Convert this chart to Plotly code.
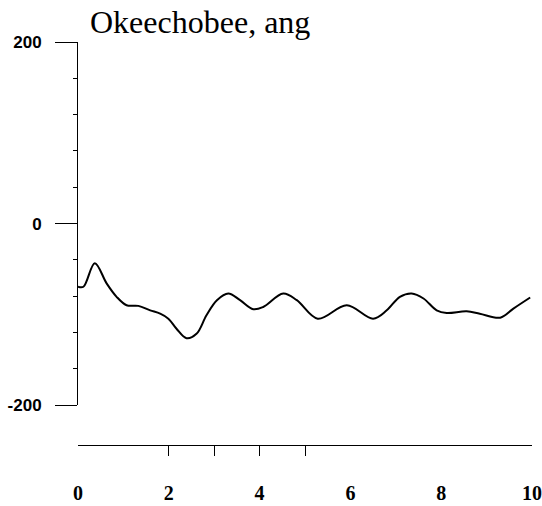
import plotly.graph_objects as go

# Data
x_vals = [0.0, 0.12, 0.37, 0.63, 0.85, 1.07, 1.33, 1.59, 1.81, 1.99, 2.17, 2.39,
          2.61, 2.83, 3.06, 3.31, 3.57, 3.86, 4.08, 4.52, 4.82, 5.28, 5.92, 6.50,
          6.80, 7.09, 7.35, 7.61, 7.90, 8.12, 8.56, 8.85, 9.30, 9.59, 9.96]
y_vals = [-69.6, -69.6, -43.7, -65.9, -80.7, -90.0, -90.7, -95.6, -99.3, -104.8,
          -115.9, -126.3, -121.5, -101.0, -84.4, -77.0, -84.4, -94.4, -91.9, -77.0,
          -84.4, -104.8, -90.0, -104.8, -95.6, -80.7, -77.0, -82.6, -95.6, -98.5,
          -96.7, -99.3, -103.7, -93.7, -81.5]

x_tick_vals = [0, 2, 4, 6, 8, 10]
x_tick_text = ["0", "2", "4", "6", "8", "10"]
x_small_ticks = [2, 3, 4, 5]
y_tick_vals = [-200, 0, 200]
y_tick_text = ["-200", "0", "200"]
title_text = "Okeechobee, ang"

fig = go.Figure()
fig.add_trace(go.Scatter(
    x=x_vals, y=y_vals, mode="lines",
    line=dict(color="black", width=2, shape="spline", smoothing=1.0),
    showlegend=False, hoverinfo="skip",
))

fig.update_layout(
    width=542, height=506,
    margin=dict(l=78, r=10, t=42, b=61, autoexpand=False),
    paper_bgcolor="white", plot_bgcolor="white",
    xaxis=dict(
        range=[0, 10], anchor="free", position=0, automargin=False,
        tickvals=x_tick_vals, ticktext=x_tick_text,
        ticks="outside", ticklen=30, tickcolor="rgba(0,0,0,0)",
        showline=True, linecolor="black", linewidth=1,
        showgrid=False, zeroline=False,
        tickfont=dict(family="Liberation Serif", size=20, color="black", weight="bold"),
    ),
    xaxis2=dict(
        range=[0, 10], overlaying="x", anchor="free", position=0, automargin=False,
        tickvals=x_small_ticks, ticks="outside", ticklen=10, tickcolor="black",
        tickwidth=1, showticklabels=False, showline=False,
        showgrid=False, zeroline=False,
    ),
    yaxis=dict(
        range=[-200, 200], domain=[0.099, 1], automargin=False,
        tickvals=y_tick_vals, ticktext=y_tick_text,
        ticks="outside", ticklen=22, tickcolor="black", tickwidth=1,
        ticklabelstandoff=10,
        minor=dict(dtick=40, tick0=0, ticks="outside", ticklen=4,
                   tickcolor="black", tickwidth=1),
        showline=True, linecolor="black", linewidth=1,
        showgrid=False, zeroline=False,
        tickfont=dict(family="Liberation Sans", size=17, color="black", weight="bold"),
    ),
    annotations=[dict(
        text=title_text, xref="paper", yref="paper",
        x=0.022, y=1.0, xanchor="left", yanchor="bottom",
        showarrow=False,
        font=dict(family="Liberation Serif", size=32, color="black"),
    )],
)
# dummy trace on xaxis2 so the overlay axis renders
fig.add_trace(go.Scatter(x=[None], y=[None], xaxis="x2", showlegend=False, hoverinfo="skip"))

fig.write_html(
    "out.html",
    config={"displayModeBar": False},
    post_script="document.body.style.margin='0';document.body.style.overflow='hidden';",
)
